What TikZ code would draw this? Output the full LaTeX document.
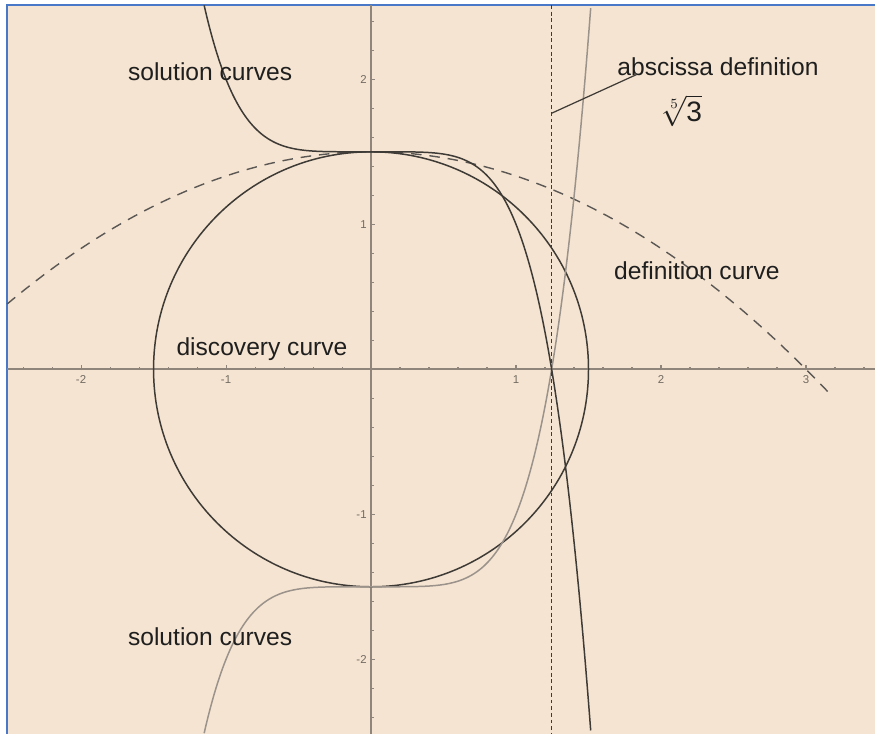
\documentclass[tikz,border=0pt]{standalone}
\usepackage{fontspec}
\setmainfont{Liberation Sans}
\usepackage{xcolor}
\usepackage{tikz}
\usetikzlibrary{calc}
\definecolor{paper}{HTML}{F5E4D1}
\definecolor{frameblue}{HTML}{4A78C8}
\definecolor{axisgray}{HTML}{8F857B}
\definecolor{inkdark}{HTML}{3E3A36}
\definecolor{inklight}{HTML}{9B938B}
\tikzset{
  frame/.style={frameblue, line width=1.2pt},
  axisline/.style={axisgray, line width=1pt},
  tickmark/.style={axisgray, line width=0.6pt},
  ticklabel/.style={text=axisgray!80!black, font=\fontsize{6.5}{7}\selectfont, inner sep=0pt},
  curvelabel/.style={text=black!88, font=\fontsize{14}{16}\selectfont, inner sep=0pt, anchor=base},
  solution/.style={inkdark, line width=0.85pt},
  solutionlight/.style={inklight, line width=0.85pt},
  discovery/.style={inkdark, line width=0.85pt},
  definition/.style={inkdark!85, line width=0.8pt, dash pattern=on 6pt off 4.5pt},
  abscissa/.style={inkdark, line width=0.8pt, dash pattern=on 2.2pt off 1.6pt},
  pointer/.style={inkdark, line width=0.7pt}
}

\begin{document}
\begin{tikzpicture}[x=2.9cm, y=2.9cm]
        % Canvas
        \useasboundingbox (-2.559,-2.515) rectangle (3.476,2.547);
        \fill[paper] (-2.510,-2.515) rectangle (3.476,2.512);
        \draw[frame] (-2.510,-2.515) -- (-2.510,2.512) -- (3.476,2.512);

        % Axes
        \draw[axisline] (-2.510,0) -- (3.476,0);
        \draw[axisline] (0,-2.515) -- (0,2.512);
        \foreach \k in {-12,...,17} \draw[tickmark] (\k/5,0) -- ++(0,0.018);
        \foreach \k in {-12,...,12} \draw[tickmark] (0,\k/5) -- ++(0.018,0);
        \foreach \k in {-2,...,3} \draw[tickmark] (\k,-0.008) -- (\k,0.03);
        \foreach \k in {-2,-1,1,2} \draw[tickmark] (-0.008,\k) -- (0.03,\k);
        \foreach \v/\n in {-2/m2,-1/m1,1/p1,2/p2,3/p3}
          \node[ticklabel] (xtick\n) at (\v,-0.069) {\v};
        \foreach \v/\n in {-2/m2,-1/m1,1/p1,2/p2}
          \node[ticklabel, anchor=east] (ytick\n) at (-0.028,\v) {\v};

        % Curves
        \draw[definition] plot[domain=-2.510:3.17, samples=120, smooth] (\x,{1.5-\x*\x/6});
        \draw[discovery] (0,0) circle (1.5);
        \draw[solutionlight] plot[domain=-1.151:1.517, samples=200, smooth] (\x,{0.5*\x*\x*\x*\x*\x-1.5});
        \draw[solution] plot[domain=-1.151:1.517, samples=200, smooth] (\x,{1.5-0.5*\x*\x*\x*\x*\x});

        % Abscissa line
        \coordinate (xtop) at (1.2457,2.512);
        \coordinate (xbot) at (1.2457,-2.515);
        \draw[abscissa] (xtop) -- (xbot);

        % Labels
        \node[curvelabel] (soltop) at (-1.110,1.993) {solution curves};
        \node[curvelabel] (solbot) at (-1.110,-1.903) {solution curves};
        \node[curvelabel] (disc) at (-0.752,0.097) {discovery curve};
        \node[curvelabel] (defc) at (2.248,0.620) {definition curve};
        \node[curvelabel] (absc) at (2.393,2.028) {abscissa definition};
        \node[text=black!88, font=\fontsize{16}{18}\selectfont, inner sep=0pt] (root) at (2.145,1.785) {$\sqrt[5]{\mbox{3}}$};

        % Pointer
        \coordinate (foot) at (1.2457,1.766);
        \coordinate (tip) at (1.834,2.034);
        \draw[pointer] (foot) -- (tip);
    \end{tikzpicture}
\end{document}
